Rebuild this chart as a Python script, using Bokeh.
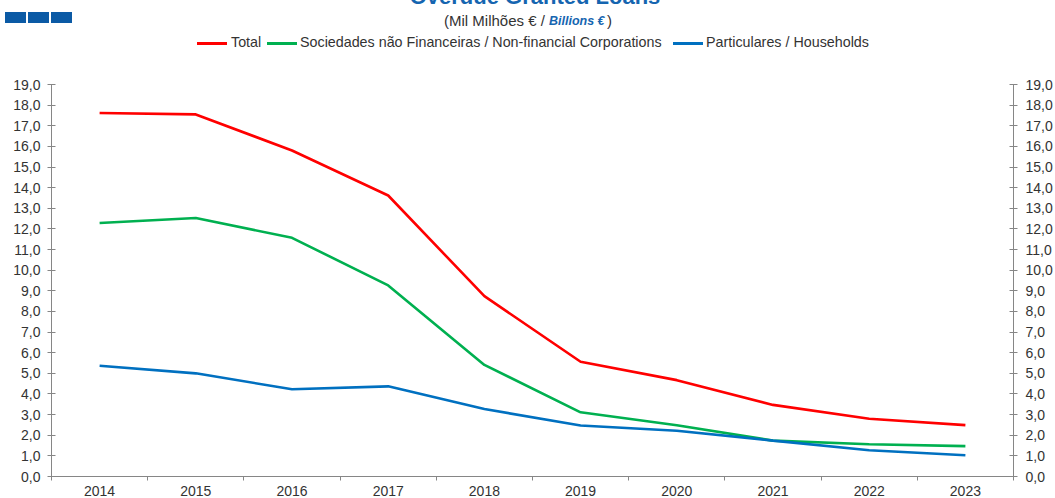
from bokeh.plotting import figure
from bokeh.layouts import column
from bokeh.models import Range1d, FixedTicker, LinearAxis, Div
from bokeh.embed import file_html
from bokeh.resources import INLINE

# ---------------- data ----------------
years = ["2014", "2015", "2016", "2017", "2018", "2019", "2020", "2021", "2022", "2023"]
total = [17.62, 17.55, 15.80, 13.62, 8.74, 5.56, 4.67, 3.47, 2.80, 2.49]
non_financial = [12.29, 12.53, 11.57, 9.26, 5.41, 3.11, 2.48, 1.74, 1.56, 1.47]
households = [5.37, 5.00, 4.23, 4.37, 3.27, 2.47, 2.22, 1.74, 1.27, 1.03]
y_ticks = list(range(0, 20))
y_tick_labels = [f"{v},0" for v in y_ticks]

series_names = ["Total",
                "Sociedades não Financeiras / Non-financial Corporations",
                "Particulares / Households"]
title_text = "Overdue Granted Loans"
subtitle_pt = "(Mil Milhões € /"
subtitle_en = "Billions €"
subtitle_end = ")"

# ---------------- style ----------------
FONT = "Liberation Sans"
RED, GREEN, BLUE = "#FF0000", "#00B050", "#0070C0"
series_colors = [RED, GREEN, BLUE]
TITLE_BLUE = "#1565B0"
SQUARE_BLUE = "#0B5AA5"
AXIS_COL = "#868686"
TXT_COL = "#333333"

W, H = 1055, 498
HT = 60                               # header height
FL, FR, FT, FB = 51, 1013, 84, 478    # chart frame edges in page pixels


def text_box(txt, left, baseline, size, color=TXT_COL, style="", width=None, align="left"):
    top = baseline - 0.8465 * size
    w = f"width:{width}px;" if width else ""
    return (f'<div style="position:absolute;left:{left}px;top:{top:.2f}px;{w}'
            f'font-size:{size}px;line-height:{size}px;color:{color};'
            f'white-space:nowrap;text-align:{align};{style}">{txt}</div>')


parts = []
# decorative squares
for l, r in [(5, 26), (28, 49), (51, 72)]:
    parts.append(f'<div style="position:absolute;left:{l}px;top:12px;width:{r - l}px;'
                 f'height:11px;background:{SQUARE_BLUE};"></div>')
# title (cut at the top edge, as in the reference) and subtitle
parts.append(text_box(title_text, 0, 5, 22, TITLE_BLUE, "font-weight:bold;",
                      width=1070, align="center"))
parts.append(text_box(subtitle_pt, 444, 26, 15))
parts.append(text_box(subtitle_en, 549, 26, 12.5, TITLE_BLUE,
                      "font-weight:bold;font-style:italic;"))
parts.append(text_box(subtitle_end, 607, 26, 15))
# legend
legend_lines = [(197, 227), (267, 297), (673, 703)]
legend_text_x = [231, 300, 706]
for (l, r), tx, name, col in zip(legend_lines, legend_text_x, series_names, series_colors):
    parts.append(f'<div style="position:absolute;left:{l}px;top:42px;width:{r - l}px;'
                 f'height:2.6px;background:{col};"></div>')
    parts.append(text_box(name, tx, 47.5, 14.3))

header = Div(text=(f'<div style="position:relative;width:{W}px;height:{HT}px;'
                   f'font-family:\'{FONT}\';">' + "".join(parts) + "</div>"),
             width=W, height=HT, margin=0)

# ---------------- chart figure ----------------
p = figure(width=W, height=H - HT, output_backend="svg", toolbar_location=None,
           x_range=Range1d(0, len(years)), y_range=Range1d(0, 19),
           min_border_left=FL, min_border_right=W - FR,
           min_border_top=FT - HT, min_border_bottom=H - FB)
p.xgrid.visible = False
p.ygrid.visible = False
p.outline_line_color = None

xs = [i + 0.5 for i in range(len(years))]

xa = p.xaxis[0]
xa.ticker = FixedTicker(ticks=xs, minor_ticks=list(range(len(years) + 1)))
xa.major_label_overrides = {x: y for x, y in zip(xs, years)}
xa.major_tick_in = 0
xa.major_tick_out = 0
xa.minor_tick_in = 0
xa.minor_tick_out = 4
xa.minor_tick_line_color = AXIS_COL
xa.axis_line_color = AXIS_COL
xa.major_label_standoff = 5
xa.major_label_text_font = FONT
xa.major_label_text_font_size = "14px"
xa.major_label_text_color = TXT_COL


def style_y(ax, standoff):
    ax.ticker = FixedTicker(ticks=y_ticks)
    ax.major_label_overrides = {v: s for v, s in zip(y_ticks, y_tick_labels)}
    ax.major_tick_in = 4
    ax.major_tick_out = 4
    ax.minor_tick_line_color = None
    ax.major_tick_line_color = AXIS_COL
    ax.axis_line_color = AXIS_COL
    ax.major_label_standoff = standoff
    ax.major_label_text_font = FONT
    ax.major_label_text_font_size = "14px"
    ax.major_label_text_color = TXT_COL


style_y(p.yaxis[0], 7)
ry = LinearAxis()
style_y(ry, 8)
p.add_layout(ry, "right")

for vals, col in zip([total, non_financial, households], series_colors):
    p.line(xs, vals, line_color=col, line_width=2.6)

layout = column(header, p, spacing=0)

open("out.html", "w").write(file_html(layout, INLINE))
